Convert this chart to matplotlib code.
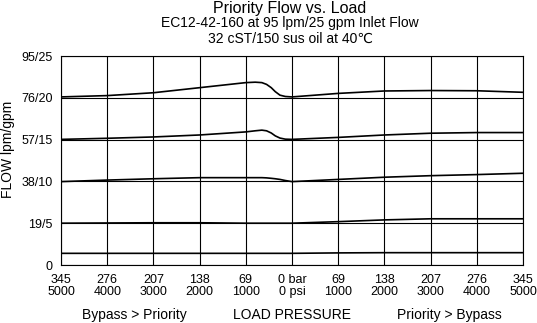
import matplotlib
matplotlib.use("Agg")
import matplotlib.pyplot as plt

# load pressure in bar, negative = bypass > priority side
pressure = [-345, -276, -207, -138, -69, -55, -45, -38, -31, -25, -18, -10, 0, 69, 138, 207, 276, 345]

flow_76 = [76.4, 77.0, 78.3, 80.6, 82.9, 83.1, 82.9, 82.1, 80.6, 78.8, 77.2, 76.6, 76.4, 78.0, 79.1, 79.3, 79.2, 78.5]
flow_57 = [57.1, 57.6, 58.2, 59.1, 60.5, 61.0, 61.3, 61.0, 60.0, 58.7, 57.7, 57.2, 57.1, 58.0, 59.1, 59.9, 60.2, 60.2]
flow_38 = [37.9, 38.6, 39.2, 39.7, 39.7, 39.7, 39.7, 39.6, 39.4, 39.2, 38.9, 38.4, 37.9, 38.9, 39.9, 40.6, 41.1, 41.7]
flow_19 = [19.0, 19.1, 19.2, 19.2, 19.0, 19.0, 19.0, 19.0, 19.0, 19.0, 19.0, 19.0, 19.0, 19.7, 20.5, 21.0, 21.0, 21.0]
flow_5 = [5.3, 5.3, 5.3, 5.3, 5.3, 5.3, 5.3, 5.3, 5.3, 5.3, 5.3, 5.3, 5.3, 5.5, 5.6, 5.6, 5.6, 5.6]

x_ticks = [-345, -276, -207, -138, -69, 0, 69, 138, 207, 276, 345]
x_labels = ["345\n5000", "276\n4000", "207\n3000", "138\n2000", "69\n1000", "0 bar\n0 psi",
            "69\n1000", "138\n2000", "207\n3000", "276\n4000", "345\n5000"]
y_ticks = [0, 19, 38, 57, 76, 95]
y_labels = ["0", "19/5", "38/10", "57/15", "76/20", "95/25"]

plt.rcParams['font.family'] = ['Liberation Sans', 'DejaVu Sans']

fig = plt.figure(figsize=(5.37, 3.23), dpi=100)
ax = fig.add_axes([61 / 537, 1 - 265 / 323, 462 / 537, 209 / 323])

for flow in [flow_76, flow_57, flow_38, flow_19, flow_5]:
    ax.plot(pressure, flow, color="black", lw=1.2, zorder=3)

ax.set_xlim(-345, 345)
ax.set_ylim(0, 95)
ax.set_xticks(x_ticks)
ax.set_xticklabels(x_labels, fontsize=9, linespacing=1.05)
ax.set_yticks(y_ticks)
ax.set_yticklabels(y_labels, fontsize=9)
ax.tick_params(length=0)
ax.tick_params(axis="x", pad=6.5)
ax.tick_params(axis="y", pad=6)
ax.grid(True, color="black", lw=0.8)
for s in ax.spines.values():
    s.set_color("black")
    s.set_linewidth(0.8)

fig.text(8 / 537, 1 - 149 / 323, "FLOW lpm/gpm", rotation=90, ha="center", va="center", fontsize=10)

cx = 290 / 537
fig.text(cx, 1 - 12.5 / 323, "Priority Flow vs. Load", ha="center", va="baseline", fontsize=11.5)
fig.text(cx, 1 - 27.5 / 323, "EC12-42-160 at 95 lpm/25 gpm Inlet Flow", ha="center", va="baseline", fontsize=10)
fig.text(cx, 1 - 43 / 323, "32 cST/150 sus oil at 40\u2103", ha="center", va="baseline", fontsize=10)

for xpos, txt in [(134, "Bypass > Priority"), (292, "LOAD PRESSURE"), (449, "Priority > Bypass")]:
    fig.text(xpos / 537, 1 - 319 / 323, txt, ha="center", va="baseline", fontsize=10)

fig.savefig("out.png", dpi=100)
